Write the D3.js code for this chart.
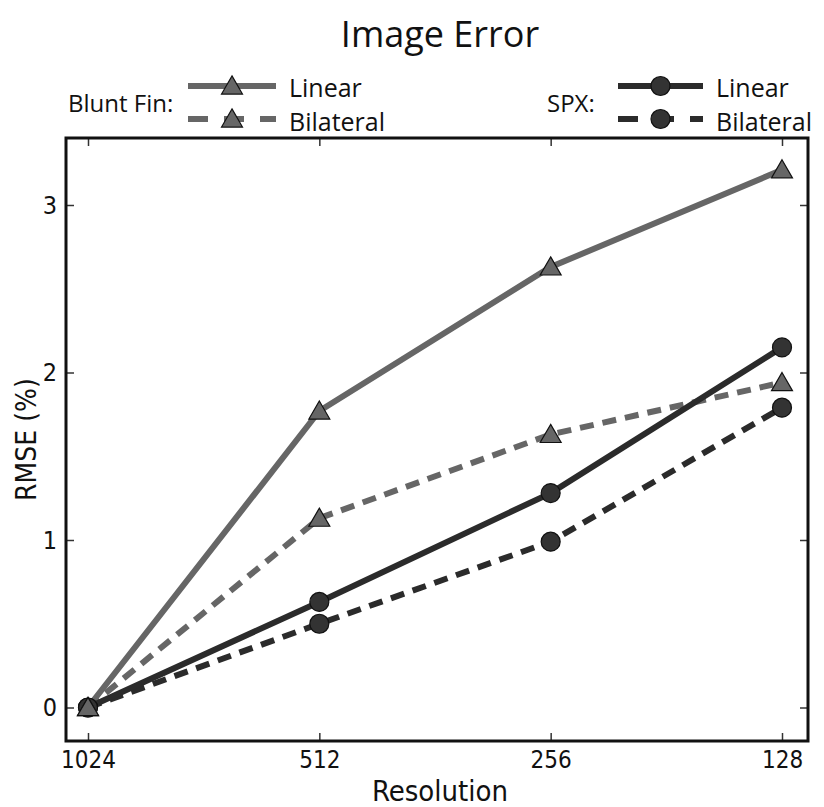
<!DOCTYPE html>
<html>
<head>
<meta charset="utf-8">
<script src="https://cdn.jsdelivr.net/npm/d3@7"></script>
<style>
  body { margin: 0; background: #fff; }
  text { font-family: "Open Sans", "DejaVu Sans", sans-serif; fill: #111; }
  .narrow { font-family: "Liberation Sans Narrow", "DejaVu Sans Condensed", "Open Sans", sans-serif; }
</style>
</head>
<body>
<div id="chart"></div>
<script>
// Data
const resolutions = ["1024", "512", "256", "128"];
const bluntLinear = [0, 1.77, 2.63, 3.21];
const bluntBilateral = [0, 1.13, 1.63, 1.94];
const spxLinear = [0, 0.63, 1.28, 2.15];
const spxBilateral = [0, 0.50, 0.99, 1.79];
const yTicks = [0, 1, 2, 3];

const BLUNT_COLOR = "#666666";
const SPX_COLOR = "#2b2b2b";
const DASH = "14,9";

const series = [
    {values: bluntLinear, color: BLUNT_COLOR, dash: null, marker: "triangle", fill: "#666"},
    {values: bluntBilateral, color: BLUNT_COLOR, dash: DASH, marker: "triangle", fill: "#666"},
    {values: spxBilateral, color: SPX_COLOR, dash: DASH, marker: "circle", fill: "#333"},
    {values: spxLinear, color: SPX_COLOR, dash: null, marker: "circle", fill: "#333"}
];

const W = 824, H = 807;
const margin = {left: 66, top: 138, right: 16, bottom: 66};
const width = W - margin.left - margin.right;
const height = H - margin.top - margin.bottom;

let svg = d3.select("#chart")
    .append("svg")
    .attr("width", W)
    .attr("height", H);

let chart = svg.append("g")
    .attr("transform", "translate(" + margin.left + ", " + margin.top + ")");

let x = d3.scalePoint()
    .domain(resolutions)
    .range([22, width - 26]);

let y = d3.scaleLinear()
    .domain([-0.2, 3.4])
    .range([height, 0]);

// inward ticks on all four sides
chart.append("g")
    .attr("transform", "translate(0, " + height + ")")
    .call(d3.axisBottom(x).tickSizeInner(-8).tickSizeOuter(0).tickPadding(10))
    .call(g => g.select(".domain").remove())
    .call(g => g.selectAll("text").attr("class", "narrow").attr("font-size", 24));

chart.append("g")
    .call(d3.axisTop(x).tickSizeInner(-8).tickSizeOuter(0).tickFormat(""))
    .call(g => g.select(".domain").remove());

chart.append("g")
    .call(d3.axisLeft(y).tickValues(yTicks).tickFormat(d3.format("d"))
        .tickSizeInner(-8).tickSizeOuter(0).tickPadding(9))
    .call(g => g.select(".domain").remove())
    .call(g => g.selectAll("text").attr("class", "narrow").attr("font-size", 25));

chart.append("g")
    .attr("transform", "translate(" + width + ", 0)")
    .call(d3.axisRight(y).tickValues(yTicks).tickSizeInner(-8).tickSizeOuter(0).tickFormat(""))
    .call(g => g.select(".domain").remove());

chart.selectAll(".tick line").attr("stroke", "#333").attr("stroke-width", 1.5);

chart.append("rect")
    .attr("width", width)
    .attr("height", height)
    .attr("fill", "none")
    .attr("stroke", "#111")
    .attr("stroke-width", 3);

const line = d3.line()
    .x(function(d, i) { return x(resolutions[i]); })
    .y(function(d) { return y(d); });

const triangle = d3.symbol().type(d3.symbolTriangle).size(190);

function drawMarker(g, type, fill) {
    if (type === "triangle") {
        g.append("path")
            .attr("d", triangle())
            .attr("transform", "translate(0, 2)")
            .attr("fill", fill)
            .attr("stroke", "#111")
            .attr("stroke-width", 1.2);
    } else {
        g.append("circle")
            .attr("r", 9.5)
            .attr("fill", fill)
            .attr("stroke", "#111")
            .attr("stroke-width", 1.2);
    }
}

series.forEach(function(s) {
    chart.append("path")
        .datum(s.values)
        .attr("d", line)
        .attr("fill", "none")
        .attr("stroke", s.color)
        .attr("stroke-width", 6)
        .attr("stroke-dasharray", s.dash);
});

// markers on top; circles first so triangles sit above at the origin
[series[2], series[3], series[0], series[1]].forEach(function(s) {
    s.values.forEach(function(v, i) {
        let g = chart.append("g")
            .attr("transform", "translate(" + x(resolutions[i]) + ", " + y(v) + ")");
        drawMarker(g, s.marker, s.fill);
    });
});

// titles
svg.append("text")
    .attr("x", 440)
    .attr("y", 47)
    .attr("text-anchor", "middle")
    .attr("font-size", 36)
    .text("Image Error");

svg.append("text")
    .attr("class", "narrow")
    .attr("x", 440)
    .attr("y", 801)
    .attr("text-anchor", "middle")
    .attr("font-size", 29)
    .text("Resolution");

svg.append("text")
    .attr("class", "narrow")
    .attr("transform", "translate(36, " + (margin.top + y(1.6)) + ") rotate(-90)")
    .attr("text-anchor", "middle")
    .attr("font-size", 28)
    .text("RMSE (%)");

// legend
function legendGroup(label, labelX, lineX0, lineX1, color, marker, fill) {
    svg.append("text")
        .attr("x", labelX)
        .attr("y", 112)
        .attr("font-size", 24)
        .text(label);
    [{y: 86, dash: null, name: "Linear", base: 97},
     {y: 119, dash: DASH, name: "Bilateral", base: 131}].forEach(function(r) {
        svg.append("line")
            .attr("x1", lineX0).attr("x2", lineX1)
            .attr("y1", r.y).attr("y2", r.y)
            .attr("stroke", color)
            .attr("stroke-width", 6)
            .attr("stroke-dasharray", r.dash ? "20,16" : null);
        let g = svg.append("g")
            .attr("transform", "translate(" + ((lineX0 + lineX1) / 2) + ", " + r.y + ")");
        drawMarker(g, marker, fill);
        svg.append("text")
            .attr("x", lineX1 + 13)
            .attr("y", r.base)
            .attr("font-size", 25)
            .text(r.name);
    });
}

legendGroup("Blunt Fin:", 68, 188, 276, BLUNT_COLOR, "triangle", "#666");
legendGroup("SPX:", 547, 618, 703, SPX_COLOR, "circle", "#333");
</script>
</body>
</html>
